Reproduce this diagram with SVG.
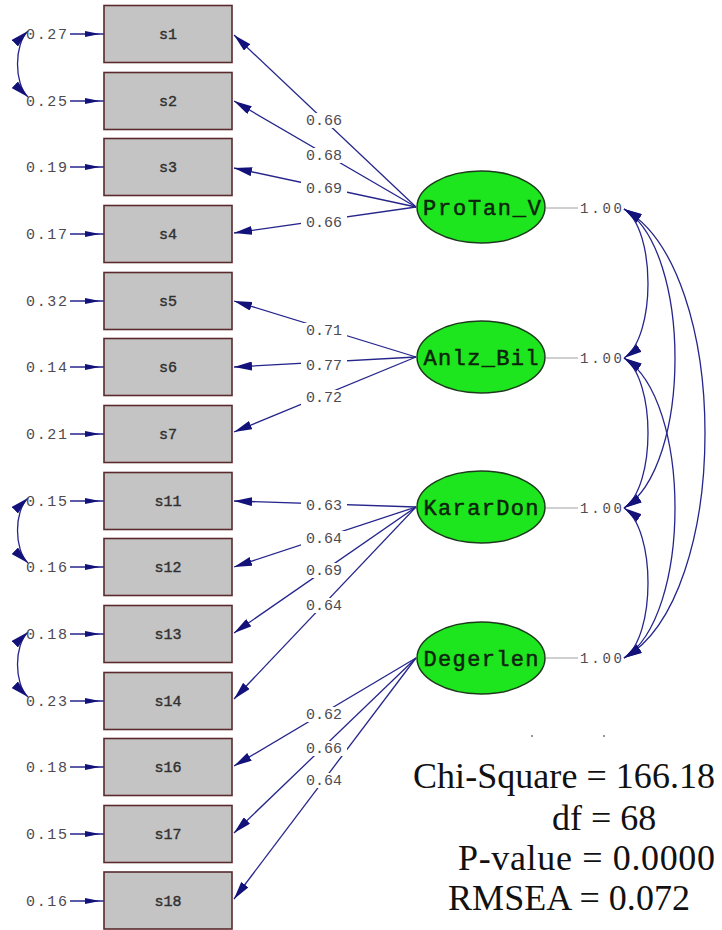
<svg xmlns="http://www.w3.org/2000/svg" width="722" height="930" viewBox="0 0 722 930">
<style>
.box{fill:#c4c4c4;stroke:#5a2a2e;stroke-width:1.6}
.lat{fill:#1ee61e;stroke:#1d3a1d;stroke-width:1.5}
.bl{font-family:"Liberation Mono","DejaVu Sans Mono",monospace;font-size:15px;fill:#303030;text-anchor:middle;stroke:#303030;stroke-width:0.4}
.ll{font-family:"Liberation Mono","DejaVu Sans Mono",monospace;font-size:22px;fill:#0c240c;text-anchor:middle;stroke:#0c240c;stroke-width:0.5}
.num{font-family:"Liberation Mono","DejaVu Sans Mono",monospace;font-size:15px;fill:#4e4a52}
.lab{font-family:"Liberation Mono","DejaVu Sans Mono",monospace;font-size:15px;fill:#4e4a52;text-anchor:middle}
.bg{fill:#fff}
.ln{fill:none;stroke:#25258c;stroke-width:1.3}
.gl{stroke:#a0a0a0;stroke-width:1}
.st{font-family:"Liberation Serif","Times New Roman",serif;font-size:36px;fill:#111}
</style>
<defs>
<marker id="ah" markerUnits="userSpaceOnUse" markerWidth="18" markerHeight="9" refX="18" refY="4.5" orient="auto-start-reverse"><path d="M0,0 L18,4.5 L0,9 z" fill="#12127a"/></marker>
<marker id="ae" markerUnits="userSpaceOnUse" markerWidth="20" markerHeight="8" refX="19" refY="4" orient="auto"><path d="M0,1 L15,4 L0,7 z" fill="#12127a"/></marker>
</defs>

<g id="connectors">
<g class="ln" marker-end="url(#ae)">
<path d="M70,34H104"/><path d="M70,101H104"/><path d="M70,167H104"/><path d="M70,234H104"/>
<path d="M70,301H104"/><path d="M70,367H104"/><path d="M70,434H104"/><path d="M70,501H104"/>
<path d="M70,567H104"/><path d="M70,634H104"/><path d="M70,701H104"/><path d="M70,767H104"/>
<path d="M70,834H104"/><path d="M70,901H104"/>
</g>
<g class="ln" marker-start="url(#ah)" marker-end="url(#ah)">
<path d="M28,31 C14,44 14,84 28,97"/>
<path d="M28,498 C14,511 14,550 28,563"/>
<path d="M28,632 C14,645 14,684 28,697"/>
</g>
<g class="ln" marker-end="url(#ah)">
<path d="M416,207L234,35"/><path d="M416,207L234,101"/><path d="M416,207L234,168"/><path d="M416,207L234,233"/>
<path d="M416,357L234,301"/><path d="M416,357L234,367"/><path d="M416,357L234,432"/>
<path d="M416,507L234,501"/><path d="M416,507L234,567"/><path d="M416,507L234,633"/><path d="M416,507L234,699"/>
<path d="M416,658L234,766"/><path d="M416,658L234,833"/><path d="M416,658L234,899"/>
</g>
<g class="gl">
<path d="M546,208H578"/><path d="M546,358H578"/><path d="M546,508H578"/><path d="M546,658H578"/>
</g>
<g class="ln" marker-start="url(#ah)" marker-end="url(#ah)">
<path d="M624,209 C656,230 656,337 624,358"/>
<path d="M624,358 C656,379 656,487 624,508"/>
<path d="M624,508 C656,529 656,637 624,658"/>
<path d="M624,209 C692,250 692,467 624,508"/>
<path d="M624,358 C692,399 692,617 624,658"/>
<path d="M624,209 C732,270 732,597 624,658"/>
</g>
<g class="bg">
<rect x="301" y="113" width="46" height="15"/>
<rect x="301" y="148" width="46" height="15"/>
<rect x="301" y="181" width="46" height="15"/>
<rect x="301" y="215" width="46" height="15"/>
<rect x="301" y="323" width="46" height="15"/>
<rect x="301" y="358" width="46" height="15"/>
<rect x="301" y="390" width="46" height="15"/>
<rect x="301" y="498" width="46" height="15"/>
<rect x="301" y="531" width="46" height="15"/>
<rect x="301" y="563" width="46" height="15"/>
<rect x="301" y="598" width="46" height="15"/>
<rect x="301" y="707" width="46" height="15"/>
<rect x="301" y="741" width="46" height="15"/>
<rect x="301" y="773" width="46" height="15"/>
</g>
<text class="lab" x="324" y="125">0.66</text>
<text class="lab" x="324" y="160">0.68</text>
<text class="lab" x="324" y="193">0.69</text>
<text class="lab" x="324" y="227">0.66</text>
<text class="lab" x="324" y="335">0.71</text>
<text class="lab" x="324" y="370">0.77</text>
<text class="lab" x="324" y="402">0.72</text>
<text class="lab" x="324" y="510">0.63</text>
<text class="lab" x="324" y="543">0.64</text>
<text class="lab" x="324" y="575">0.69</text>
<text class="lab" x="324" y="610">0.64</text>
<text class="lab" x="324" y="719">0.62</text>
<text class="lab" x="324" y="753">0.66</text>
<text class="lab" x="324" y="785">0.64</text>
</g>

<g id="error-labels">
<text class="num" x="26" y="39" textLength="41">0.27</text>
<text class="num" x="26" y="106" textLength="41">0.25</text>
<text class="num" x="26" y="172" textLength="41">0.19</text>
<text class="num" x="26" y="239" textLength="41">0.17</text>
<text class="num" x="26" y="306" textLength="41">0.32</text>
<text class="num" x="26" y="372" textLength="41">0.14</text>
<text class="num" x="26" y="439" textLength="41">0.21</text>
<text class="num" x="26" y="506" textLength="41">0.15</text>
<text class="num" x="26" y="572" textLength="41">0.16</text>
<text class="num" x="26" y="639" textLength="41">0.18</text>
<text class="num" x="26" y="706" textLength="41">0.23</text>
<text class="num" x="26" y="772" textLength="41">0.18</text>
<text class="num" x="26" y="839" textLength="41">0.15</text>
<text class="num" x="26" y="906" textLength="41">0.16</text>
</g>

<g id="s1"><rect class="box" x="104" y="5.5" width="128" height="57"/><text class="bl" x="168" y="39">s1</text></g>
<g id="s2"><rect class="box" x="104" y="72.5" width="128" height="57"/><text class="bl" x="168" y="106">s2</text></g>
<g id="s3"><rect class="box" x="104" y="138.5" width="128" height="57"/><text class="bl" x="168" y="172">s3</text></g>
<g id="s4"><rect class="box" x="104" y="205.5" width="128" height="57"/><text class="bl" x="168" y="239">s4</text></g>
<g id="s5"><rect class="box" x="104" y="272.5" width="128" height="57"/><text class="bl" x="168" y="306">s5</text></g>
<g id="s6"><rect class="box" x="104" y="338.5" width="128" height="57"/><text class="bl" x="168" y="372">s6</text></g>
<g id="s7"><rect class="box" x="104" y="405.5" width="128" height="57"/><text class="bl" x="168" y="439">s7</text></g>
<g id="s11"><rect class="box" x="104" y="472.5" width="128" height="57"/><text class="bl" x="168" y="506">s11</text></g>
<g id="s12"><rect class="box" x="104" y="538.5" width="128" height="57"/><text class="bl" x="168" y="572">s12</text></g>
<g id="s13"><rect class="box" x="104" y="605.5" width="128" height="57"/><text class="bl" x="168" y="639">s13</text></g>
<g id="s14"><rect class="box" x="104" y="672.5" width="128" height="57"/><text class="bl" x="168" y="706">s14</text></g>
<g id="s16"><rect class="box" x="104" y="738.5" width="128" height="57"/><text class="bl" x="168" y="772">s16</text></g>
<g id="s17"><rect class="box" x="104" y="805.5" width="128" height="57"/><text class="bl" x="168" y="839">s17</text></g>
<g id="s18"><rect class="box" x="104" y="872" width="128" height="57"/><text class="bl" x="168" y="906">s18</text></g>

<g id="ProTan_V"><ellipse class="lat" cx="481" cy="207" rx="64" ry="36"/><text class="ll" x="482" y="215" textLength="118">ProTan_V</text></g>
<g id="Anlz_Bil"><ellipse class="lat" cx="481" cy="357" rx="64" ry="36"/><text class="ll" x="481" y="365" textLength="115">Anlz_Bil</text></g>
<g id="KararDon"><ellipse class="lat" cx="481" cy="507" rx="64" ry="36"/><text class="ll" x="481" y="515" textLength="115">KararDon</text></g>
<g id="Degerlen"><ellipse class="lat" cx="481" cy="658" rx="64" ry="36"/><text class="ll" x="481" y="666" textLength="115">Degerlen</text></g>

<g id="variance-labels">
<text class="num" x="580" y="213" textLength="42" style="font-size:14px">1.00</text>
<text class="num" x="580" y="363" textLength="42" style="font-size:14px">1.00</text>
<text class="num" x="580" y="513" textLength="42" style="font-size:14px">1.00</text>
<text class="num" x="580" y="663" textLength="42" style="font-size:14px">1.00</text>
</g>

<g id="fit-stats">
<circle cx="532" cy="736" r="1" fill="#777"/>
<circle cx="604" cy="736" r="1" fill="#777"/>
<text class="st" x="413" y="788" textLength="302">Chi-Square = 166.18</text>
<text class="st" x="552" y="830">df = 68</text>
<text class="st" x="458" y="870" textLength="257">P-value = 0.0000</text>
<text class="st" x="448" y="910" textLength="242">RMSEA = 0.072</text>
</g>
</svg>
